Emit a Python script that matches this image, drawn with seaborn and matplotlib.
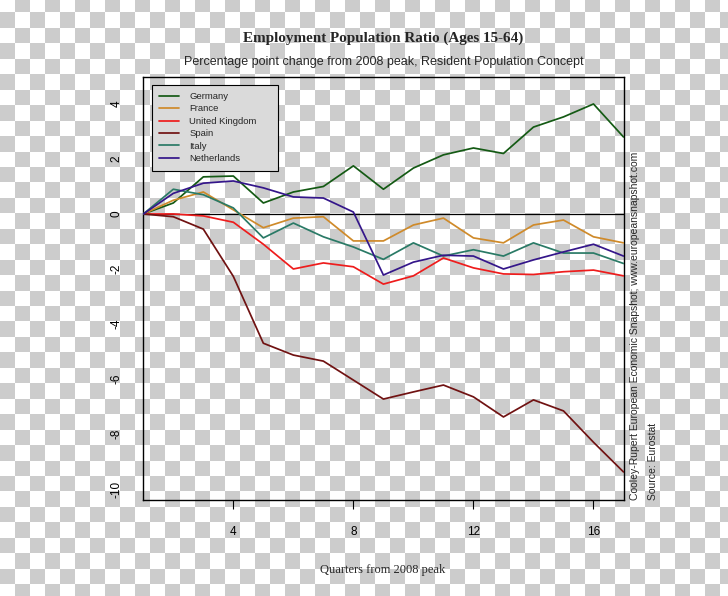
import numpy as np
import pandas as pd
import matplotlib
matplotlib.use("Agg")
import matplotlib.pyplot as plt
from matplotlib.patches import Rectangle
from matplotlib.lines import Line2D
import seaborn as sns

# ---------------- data ----------------
quarters = list(range(1, 18))
countries = ["Germany", "France", "United Kingdom", "Spain", "Italy", "Netherlands"]
germany = [0, 0.40, 1.35, 1.38, 0.40, 0.80, 1.00, 1.75, 0.90, 1.67, 2.15, 2.40, 2.20, 3.16, 3.53, 4.00, 2.80]
france = [0, 0.50, 0.80, 0.15, -0.50, -0.15, -0.10, -0.98, -0.98, -0.40, -0.15, -0.87, -1.05, -0.40, -0.22, -0.83, -1.05]
uk = [0, 0.00, -0.07, -0.30, -1.10, -2.00, -1.78, -1.92, -2.55, -2.25, -1.60, -1.96, -2.18, -2.20, -2.10, -2.04, -2.25]
spain = [0, -0.10, -0.55, -2.27, -4.70, -5.13, -5.35, -6.04, -6.73, -6.47, -6.22, -6.65, -7.38, -6.76, -7.16, -8.30, -9.38]
italy = [0, 0.90, 0.70, 0.22, -0.87, -0.33, -0.83, -1.20, -1.65, -1.05, -1.53, -1.30, -1.53, -1.05, -1.42, -1.42, -1.80]
netherlands = [0, 0.75, 1.12, 1.20, 0.95, 0.62, 0.58, 0.07, -2.22, -1.75, -1.50, -1.53, -2.00, -1.67, -1.38, -1.10, -1.53]
xticks = [4, 8, 12, 16]
yticks = [4, 2, 0, -2, -4, -6, -8, -10]

colors = {
    "Germany": "#145a14",
    "France": "#cf8a2a",
    "United Kingdom": "#ee1c1c",
    "Spain": "#701212",
    "Italy": "#2a7a66",
    "Netherlands": "#34168a",
}

series = [germany, france, uk, spain, italy, netherlands]
df = pd.concat(
    [pd.DataFrame({"quarter": quarters, "value": vals, "country": name})
     for name, vals in zip(countries, series)],
    ignore_index=True,
)

# ---------------- style ----------------
sns.set_theme(style="white")
plt.rcParams["font.family"] = ["Liberation Sans", "DejaVu Sans"]
plt.rcParams["axes.unicode_minus"] = False

W, H = 728, 596
fig = plt.figure(figsize=(W / 100, H / 100), dpi=100)

# checkerboard (transparency) background as in the reference
yy = np.arange(H)[:, None]
xx = np.arange(W)[None, :]
r = np.floor((yy - 12) / 15.45).astype(int) + 1
c = np.floor(xx / 15.0).astype(int)
gray = ((r + c) % 2 == 1)
bg = np.where(gray[..., None], 204, 255).astype(np.uint8) * np.ones((1, 1, 3), dtype=np.uint8)
fig.figimage(bg, xo=0, yo=0, origin="upper", zorder=-10)
fig.patch.set_alpha(0)

ax = fig.add_axes([143.3 / W, 1 - 500 / H, 480.2 / W, 422.7 / H])
ax.set_facecolor("none")

sns.lineplot(data=df, x="quarter", y="value", hue="country", hue_order=countries,
             palette=colors, linewidth=1.25, ax=ax, legend=False, zorder=3)

ax.axhline(0, color="black", linewidth=0.9, zorder=2)

ax.set_xlim(1, 17)
ax.set_ylim(-10.4, 4.97)
ax.set_xticks(xticks)
ax.set_xticklabels([str(t) for t in xticks])
ax.set_yticks(yticks)
ax.set_yticklabels([str(t) for t in yticks])
ax.tick_params(axis="x", length=6.5, width=0.8, color="black", pad=12, labelsize=8.5,
               direction="out", bottom=True, labelcolor="black")
ax.tick_params(axis="y", length=0, pad=15, labelsize=8.5, labelrotation=90, labelcolor="black")
for lab in ax.get_yticklabels():
    lab.set_verticalalignment("center")
ax.set_xlabel("")
ax.set_ylabel("")
for s in ax.spines.values():
    s.set_visible(True)
    s.set_color("black")
    s.set_linewidth(1.0)

# legend with its own box
box_l, box_r = (152.3 - 143.3) / 480.2, (277.7 - 143.3) / 480.2
box_t, box_b = (500 - 85) / 422.7, (500 - 170.7) / 422.7
ax.add_patch(Rectangle((box_l, box_b), box_r - box_l, box_t - box_b, transform=ax.transAxes,
                       facecolor="#dadada", edgecolor="black", linewidth=0.8, zorder=4))
handles = [Line2D([0], [0], color=colors[n], lw=1.25) for n in countries]
leg = ax.legend(handles, countries, loc="upper left", bbox_to_anchor=(box_l, box_t),
                borderaxespad=0, frameon=False, fontsize=6.8, handlelength=2.05,
                handletextpad=1.1, labelspacing=0.36, borderpad=0.75)
leg.set_zorder(5)

# titles and labels
fig.text(383 / W, 1 - 38.3 / H, "Employment Population Ratio (Ages 15-64)",
         ha="center", va="center", fontsize=10.9, fontweight="bold",
         family=["Liberation Serif", "DejaVu Serif"])
fig.text(383.5 / W, 1 - 61.5 / H,
         "Percentage point change from 2008 peak, Resident Population Concept",
         ha="center", va="center", fontsize=9.0)
fig.text(383 / W, 1 - 570 / H, "Quarters from 2008 peak", ha="center", va="center",
         fontsize=9, family=["Liberation Serif", "DejaVu Serif"])
fig.text(635 / W, 1 - 500 / H,
         "Cooley-Rupert European Economic Snapshot; www.europeansnapshot.com",
         rotation=90, ha="center", va="bottom", fontsize=7.5)
fig.text(653 / W, 1 - 500 / H, "Source: Eurostat",
         rotation=90, ha="center", va="bottom", fontsize=7.5)

fig.savefig("out.png", dpi=100)
